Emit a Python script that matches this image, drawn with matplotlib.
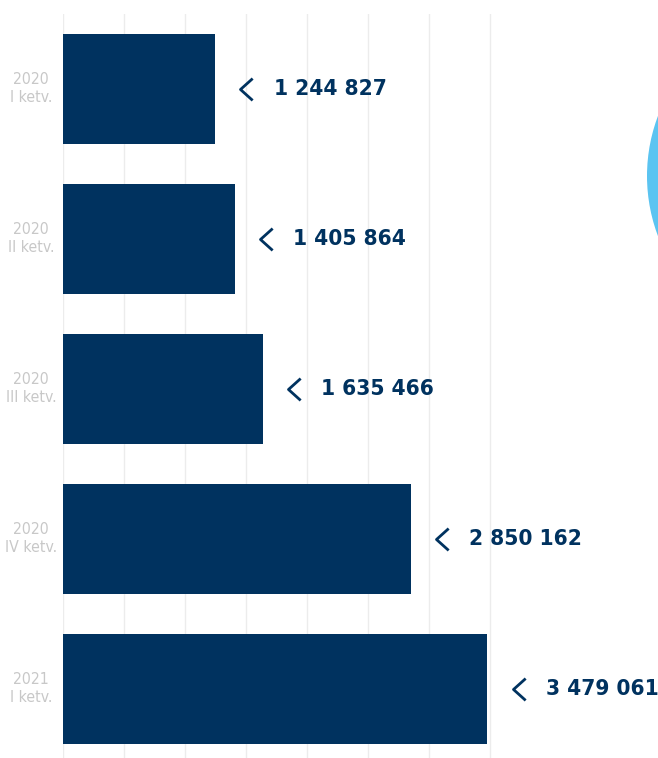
import matplotlib
matplotlib.use('Agg')
import matplotlib.pyplot as plt
import matplotlib.transforms as mtransforms
from matplotlib import font_manager
from matplotlib.patches import Circle

periods = ['2020\nI ketv.', '2020\nII ketv.', '2020\nIII ketv.', '2020\nIV ketv.', '2021\nI ketv.']
values = [1244827, 1405864, 1635466, 2850162, 3479061]
value_labels = ['1 244 827', '1 405 864', '1 635 466', '2 850 162', '3 479 061']
grid_ticks = [0, 500000, 1000000, 1500000, 2000000, 2500000, 3000000, 3500000]

navy = '#00325f'

# use a condensed face if one is installed, else Roboto (narrower than DejaVu)
cond = font_manager.findfont(font_manager.FontProperties(family='DejaVu Sans', stretch='condensed',
                                                         weight='bold'), fallback_to_default=True)
if 'Condensed' in cond:
    num_font = dict(family='DejaVu Sans', fontstretch='condensed', fontsize=16.2)
    lab_font = dict(family='DejaVu Sans', fontstretch='condensed', fontsize=11.3)
else:
    num_font = dict(family=['Roboto', 'DejaVu Sans'], fontsize=16)
    lab_font = dict(family=['Roboto', 'DejaVu Sans'], fontsize=11.3)

fig = plt.figure(figsize=(6.58, 7.58), dpi=100)
# axes spans from x=63px to the right edge, y=14px from top to bottom
ax = fig.add_axes([63 / 658, 0, 595 / 658, 744 / 758])

# decorative light blue circle at right edge
fig.patches.append(Circle((8.17, 5.82), 1.70, transform=fig.dpi_scale_trans,
                          facecolor='#5bc4f1', edgecolor='none', zorder=0))

y = list(range(len(values)))
ax.barh(y, values, height=0.733, color=navy, zorder=2)

for xt in grid_ticks:
    ax.axvline(xt, color='#ececec', lw=1, zorder=1)

ax.set_xlim(0, 595 / 61 * 500000)
ax.set_ylim(4.463, -0.497)
ax.axis('off')
ax.patch.set_alpha(0)

off = mtransforms.ScaledTranslation(25.5 / 100, 0, fig.dpi_scale_trans)
for i, (v, lab) in enumerate(zip(values, value_labels)):
    ax.plot([v], [i], transform=ax.transData + off, marker=[(1, -0.9), (0, 0), (1, 0.9)],
            markersize=17.5, markerfacecolor='none', markeredgecolor=navy, markeredgewidth=2,
            linestyle='none', zorder=3)
    ax.annotate(lab, (v, i), xytext=(42.3, 0), textcoords='offset points', ha='left', va='center',
                fontweight='bold', color=navy, **num_font)
    ax.annotate(periods[i], (0, i), xytext=(-32 * 0.72, 0), textcoords='offset points',
                ha='center', va='center', multialignment='center',
                color='#c8c8c8', linespacing=1.2, **lab_font)

fig.savefig('out.png', dpi=100)
